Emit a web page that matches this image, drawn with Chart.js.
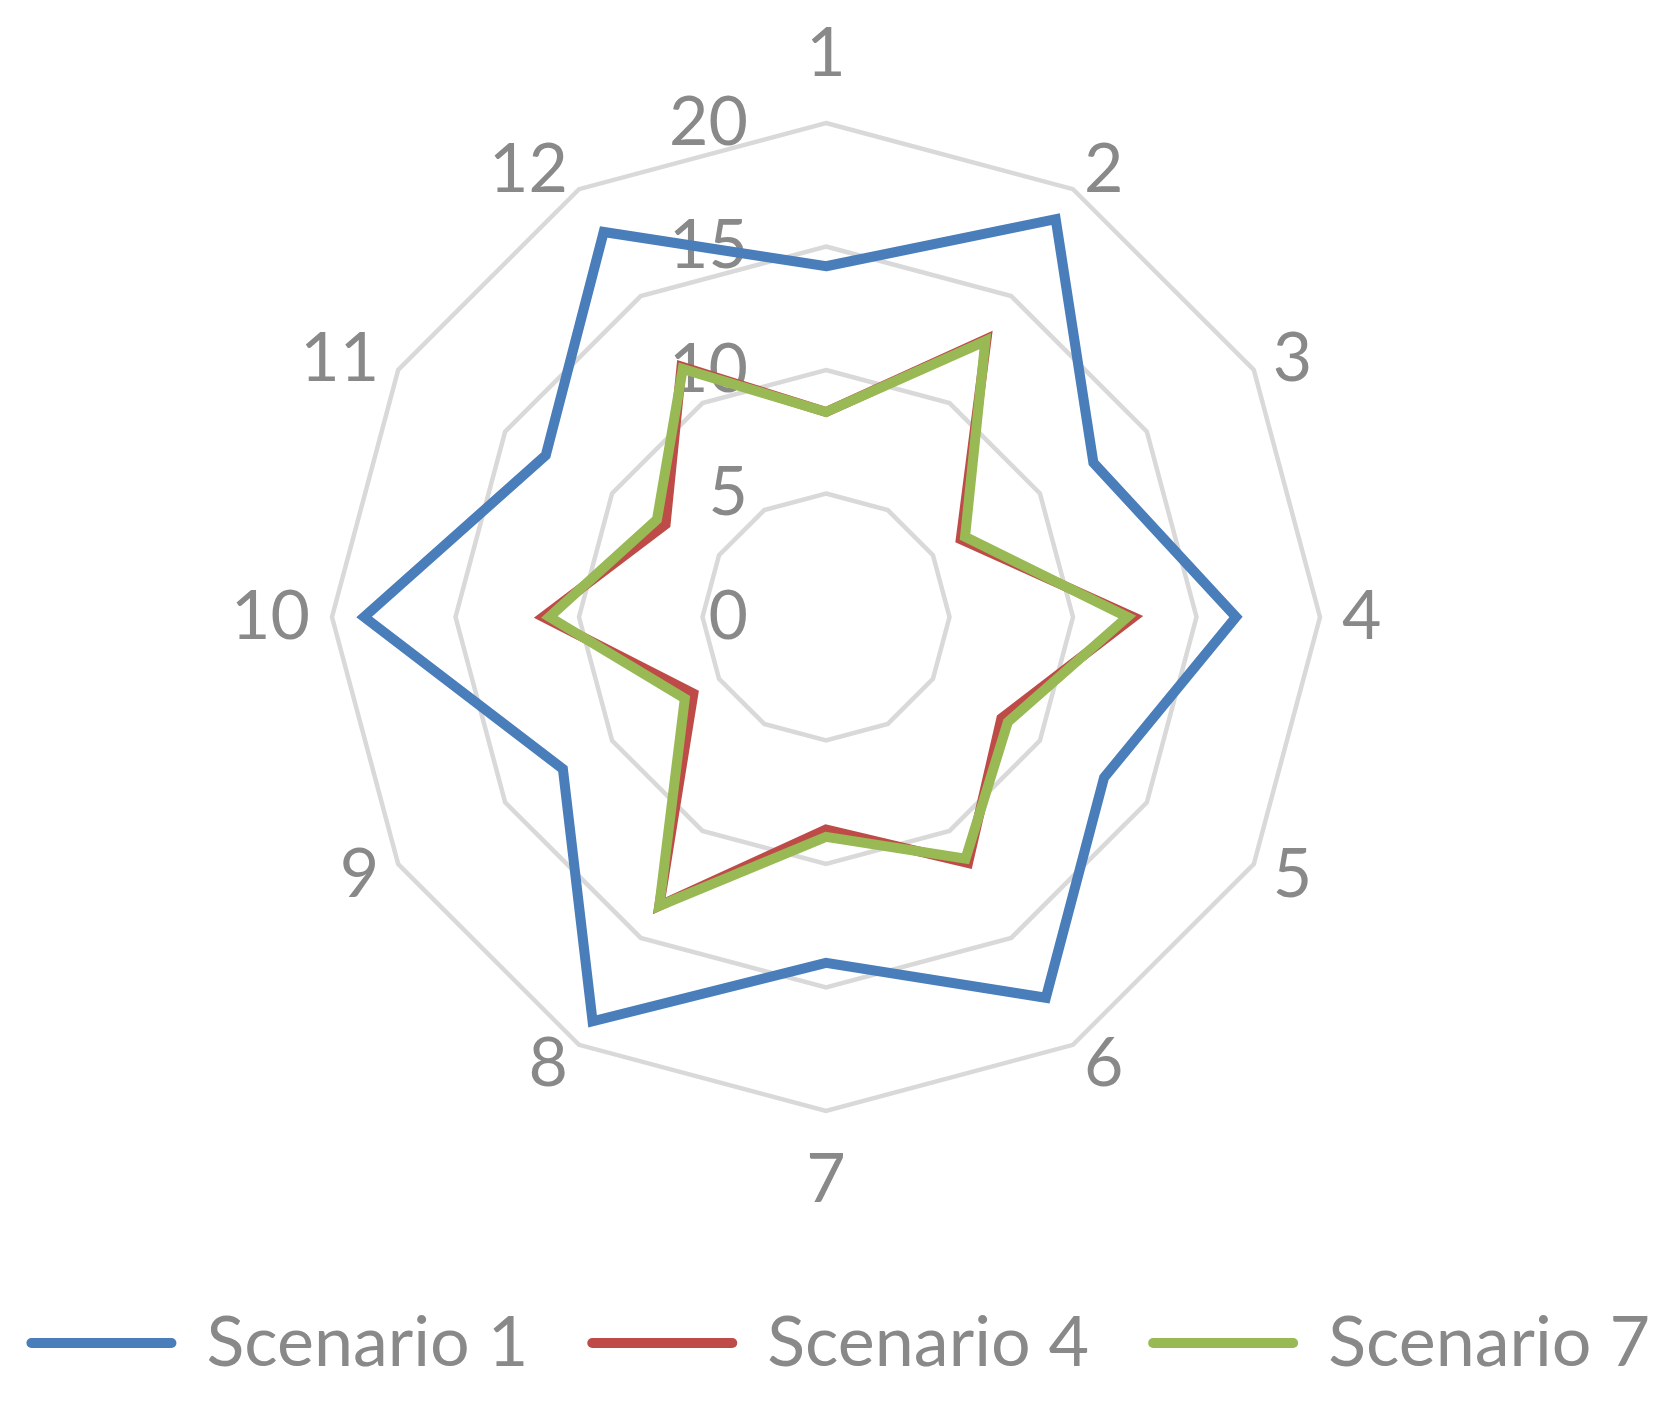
<!DOCTYPE html>
<html>
<head>
<meta charset="utf-8">
<title>Scenario radar</title>
<script src="https://cdn.jsdelivr.net/npm/chart.js@4.4.1/dist/chart.umd.min.js"></script>
<style>
    html, body { margin: 0; padding: 0; background: #ffffff; }
    #wrap { width: 1672px; height: 1411px; }
    canvas { display: block; }
</style>
</head>
<body>
<div id="wrap"><canvas id="myChart" width="1652" height="1411"></canvas></div>
<script>
// categories round the radar
const categories = ['1', '2', '3', '4', '5', '6', '7', '8', '9', '10', '11', '12'];
// series values
const scenario1 = [14.2, 18.6, 12.5, 16.6, 13.0, 17.8, 14.0, 18.9, 12.3, 18.7, 13.1, 18.0];
const scenario4 = [8.3, 13.0, 6.3, 12.45, 8.2, 11.5, 8.6, 13.5, 6.2, 11.45, 7.5, 11.7];
const scenario7 = [8.3, 12.9, 6.5, 12.2, 8.5, 11.3, 8.9, 13.5, 6.6, 11.2, 7.9, 11.6];
// radial axis ticks
const tickValues = [0, 5, 10, 15, 20];

const textGrey = '#898989';
const labelFont = '68px Lato';

// axis numbers sit left of the centre line, category numbers round the outer ring
const radarText = {
    id: 'radarText',
    beforeDatasetsDraw(chart) {
        const scale = chart.scales.r;
        const ctx = chart.ctx;
        ctx.save();
        ctx.fillStyle = textGrey;
        ctx.font = labelFont;
        ctx.textBaseline = 'middle';

        ctx.textAlign = 'right';
        scale.ticks.forEach(t => {
            const d = scale.getDistanceFromCenterForValue(t.value);
            ctx.fillText(String(t.value), scale.xCenter - 78, scale.yCenter - d);
        });

        chart.data.labels.forEach((lab, i) => {
            const deg = Math.round(scale.getIndexAngle(i) * 180 / Math.PI) % 360;
            let pos;
            if (deg === 0 || deg === 180) {
                pos = scale.getPointPosition(i, scale.drawingArea + 69);
                ctx.textAlign = 'center';
            } else {
                pos = scale.getPointPosition(i, scale.drawingArea + 22);
                ctx.textAlign = deg < 180 ? 'left' : 'right';
            }
            ctx.fillText(lab, pos.x, pos.y);
        });
        ctx.restore();
    }
};

const ctx = document.getElementById('myChart');

new Chart(ctx, {
    type: 'radar',
    data: {
        labels: categories,
        datasets: [{
            label: 'Scenario 1',
            data: scenario1,
            borderColor: '#4a7ebb',
            backgroundColor: '#4a7ebb',
            order: 3
        },
        {
            label: 'Scenario 4',
            data: scenario4,
            borderColor: '#be4b48',
            backgroundColor: '#be4b48',
            order: 2
        },
        {
            label: 'Scenario 7',
            data: scenario7,
            borderColor: '#98b954',
            backgroundColor: '#98b954',
            order: 1
        }]
    },
    options: {
        responsive: false,
        animation: false,
        layout: {
            // the legend row runs past the plot box on both sides
            padding: { left: -120, right: -62, top: 123, bottom: 23 }
        },
        elements: {
            line: { borderWidth: 10, tension: 0, fill: false },
            point: { radius: 0, hoverRadius: 0 }
        },
        scales: {
            r: {
                min: tickValues[0],
                max: tickValues[tickValues.length - 1],
                ticks: { display: false, stepSize: tickValues[1] - tickValues[0] },
                grid: { color: '#d9d9d9', lineWidth: 4.5 },
                angleLines: { display: false },
                pointLabels: { display: false }
            }
        },
        plugins: {
            tooltip: { enabled: false },
            legend: {
                position: 'bottom',
                align: 'end',
                // empty title only used as spacing above the legend row
                title: { display: true, text: '', padding: { top: 121, bottom: 0 }, font: { size: 10 } },
                labels: {
                    usePointStyle: true,
                    pointStyle: 'line',
                    pointStyleWidth: 140,
                    padding: 64,
                    color: textGrey,
                    font: { family: 'Lato', size: 70 },
                    generateLabels(chart) {
                        const items = Chart.defaults.plugins.legend.labels.generateLabels(chart);
                        items.forEach(it => { it.lineCap = 'round'; it.lineWidth = 10; });
                        return items.sort((a, b) => a.datasetIndex - b.datasetIndex);
                    }
                }
            }
        }
    },
    plugins: [radarText]
});
</script>
</body>
</html>
